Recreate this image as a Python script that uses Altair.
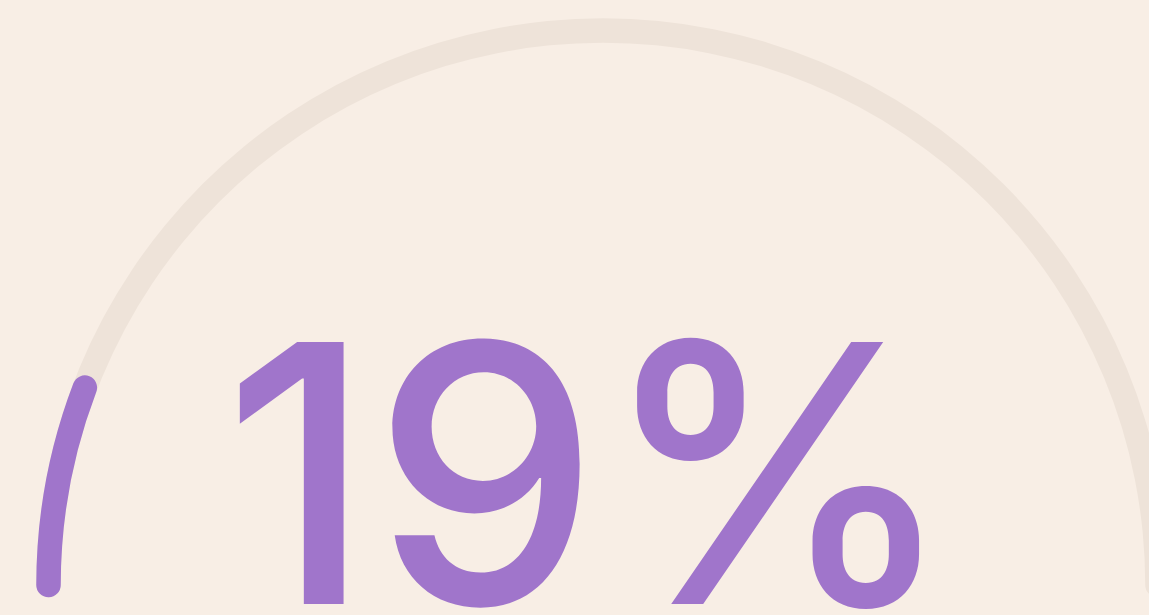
import math
import altair as alt
import pandas as pd

# ---- data ----
value = [19]                 # percentage shown
gauge_min = [0]
gauge_max = [164]            # scale end of the gauge track (as drawn)
labels = ["19%"]

BG = "#F8EEE5"
TRACK = "#EEE3D9"
PURPLE = "#A075CB"

track_df = pd.DataFrame({"start": gauge_min, "end": gauge_max})
prog_df = pd.DataFrame({"start": gauge_min, "end": value})
text_df = pd.DataFrame({"label": labels})

cx, cy, r, thick = 603, 585, 554.5, 24.5
cap = (thick / 2) / r

theta_scale = alt.Scale(domain=[gauge_min[0], gauge_max[0]], range=[-math.pi / 2, math.pi / 2])

def arc_layer(df, color):
    return alt.Chart(df).mark_arc(
        color=color,
        cornerRadius=thick / 2,
        thetaOffset=-cap,
        theta2Offset=cap,
    ).encode(
        theta=alt.Theta("start:Q", scale=theta_scale, stack=None),
        theta2="end:Q",
        x=alt.value(cx),
        y=alt.value(cy),
        radius=alt.value(r + thick / 2),
        radius2=alt.value(r - thick / 2),
    )

track = arc_layer(track_df, TRACK)
prog = arc_layer(prog_df, PURPLE)

text = alt.Chart(text_df).mark_text(
    font="Inter",
    fontSize=360,
    fontWeight=500,
    color=PURPLE,
    align="center",
    baseline="alphabetic",
).encode(
    text="label:N",
    x=alt.value(590),
    y=alt.value(604),
)

chart = alt.layer(track, prog, text).properties(
    width=1149,
    height=615,
    background=BG,
    padding=0,
    autosize=alt.AutoSizeParams(type="none"),
).configure_view(stroke=None)

chart.save("out.html", embed_options={"renderer": "svg", "actions": False})
